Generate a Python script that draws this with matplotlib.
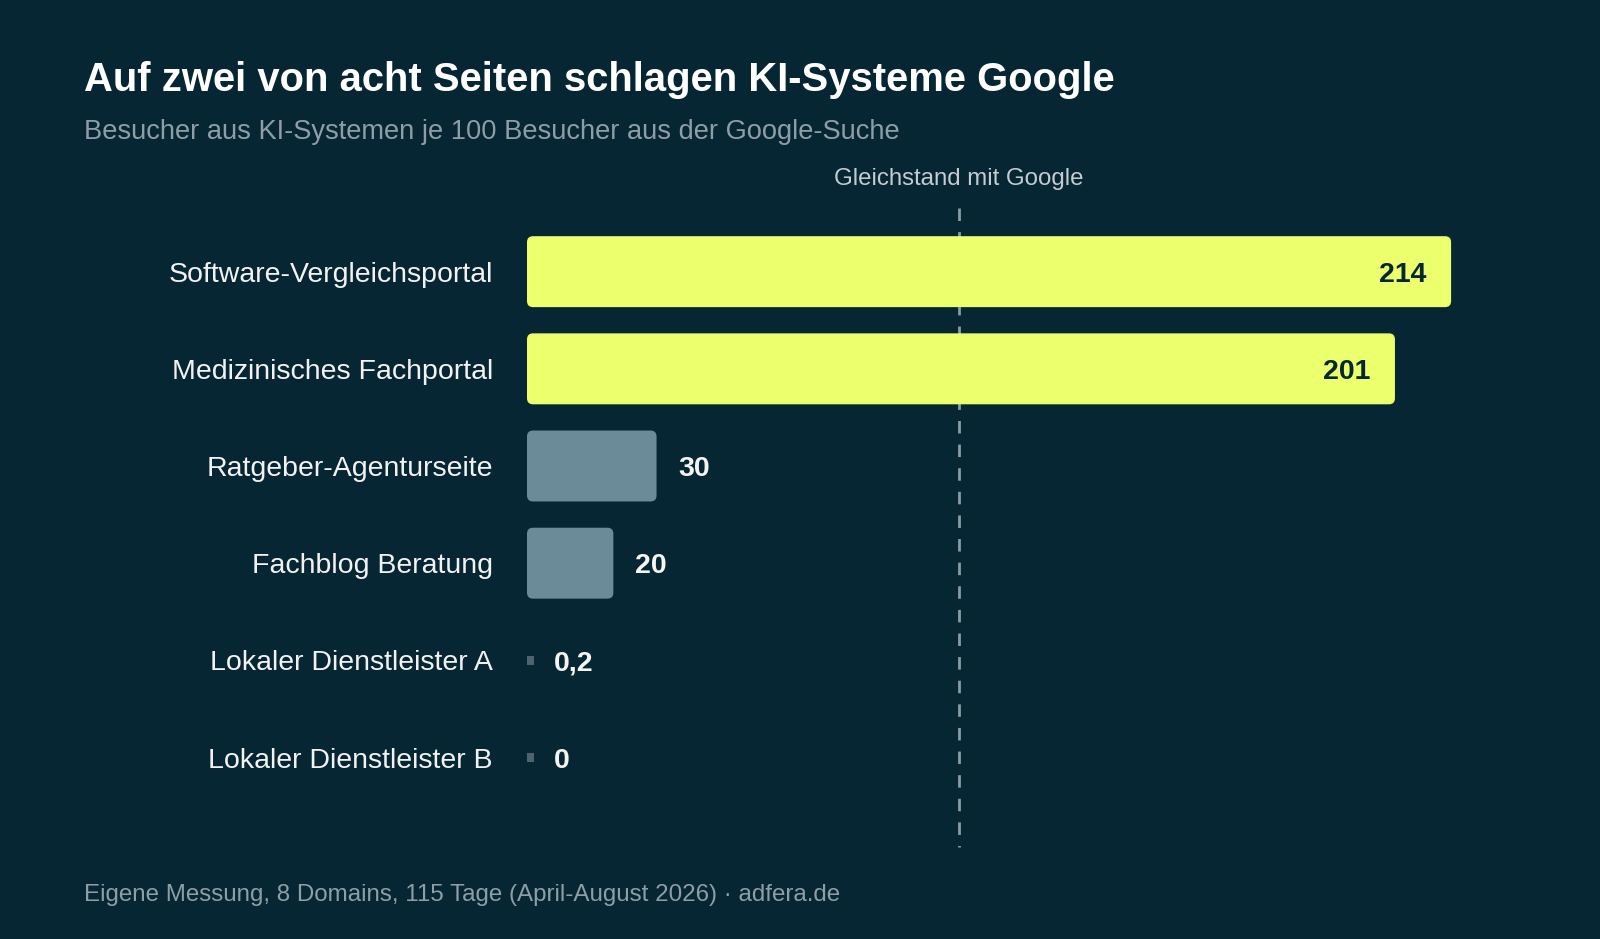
import numpy as np
import matplotlib
matplotlib.use("Agg")
import matplotlib.pyplot as plt
from matplotlib.patches import FancyBboxPatch

categories = ["Software-Vergleichsportal", "Medizinisches Fachportal", "Ratgeber-Agenturseite",
              "Fachblog Beratung", "Lokaler Dienstleister A", "Lokaler Dienstleister B"]
values = [214, 201, 30, 20, 0.2, 0]
value_labels = ["214", "201", "30", "20", "0,2", "0"]
parity = 100

title = "Auf zwei von acht Seiten schlagen KI-Systeme Google"
subtitle = "Besucher aus KI-Systemen je 100 Besucher aus der Google-Suche"
footer = "Eigene Messung, 8 Domains, 115 Tage (April-August 2026) \u00b7 adfera.de"

bg = "#062633"
yellow = "#ECFF6C"
grey = "#6B8B98"
tiny = "#4E636D"

plt.rcParams["font.family"] = ["Liberation Sans", "DejaVu Sans"]

W, H = 1600, 939
fig = plt.figure(figsize=(W / 100, H / 100), dpi=100, facecolor=bg)
ax = fig.add_axes([527 / W, 94 / H, 950 / W, 637 / H], facecolor=bg)
ax.set_xlim(0, 220)
ax.set_ylim(5.9, -0.655)
ax.axis("off")

ypos = np.arange(len(categories))
bar_h = 0.73
# px -> data units for rounded corners
px_x = 220 / 950
px_y = (5.9 + 0.655) / 637
r = 6 * px_x

for i, (v, lab) in enumerate(zip(values, value_labels)):
    if v >= 1:
        col = yellow if v > parity else grey
        box = FancyBboxPatch((0, i - bar_h / 2), v, bar_h,
                             boxstyle="round,pad=0,rounding_size=%f" % r,
                             mutation_aspect=px_y / px_x,
                             facecolor=col, edgecolor="none", zorder=3)
        ax.add_patch(box)
    else:
        ax.add_patch(plt.Rectangle((0, i - 4.5 * px_y), 7 * px_x, 9 * px_y,
                                   facecolor=tiny, edgecolor="none", zorder=3))
    if v > parity:
        ax.annotate(lab, (v, i), xytext=(-25, -3), textcoords="offset pixels",
                    ha="right", va="center", fontsize=20.5, fontweight="bold",
                    color=bg, zorder=4)
    else:
        xe = max(v, 7 * px_x)
        ax.annotate(lab, (xe, i), xytext=(22 if v >= 1 else 20, -3), textcoords="offset pixels",
                    ha="left", va="center", fontsize=20.5, fontweight="bold",
                    color="#F4F4F0", zorder=4)
    ax.annotate(categories[i], (0, i), xytext=(-34, -3), textcoords="offset pixels",
                ha="right", va="center", fontsize=20.5, color="#F2F2F2")

# dashes start at the top end, like the reference
ax.plot([parity, parity], [-0.66, 5.92], color="#8A9BA3", lw=2, ls=(0, (4.5, 4)),
        zorder=2, clip_on=False)
ax.annotate("Gleichstand mit Google", (parity, -0.655), xytext=(0, 29),
            textcoords="offset pixels", ha="center", va="center",
            fontsize=17.3, color="#C3CCD0", annotation_clip=False)

fig.text(84 / W, 1 - 80 / H, title, ha="left", va="center", fontsize=28.8,
         fontweight="bold", color="#FFFFFF")
fig.text(84 / W, 1 - 132 / H, subtitle, ha="left", va="center", fontsize=19.6,
         color="#8E9EA6")
fig.text(84 / W, 1 - 895 / H, footer, ha="left", va="center", fontsize=17.4,
         color="#8E9EA6")

fig.savefig("out.png", dpi=100, facecolor=bg)
